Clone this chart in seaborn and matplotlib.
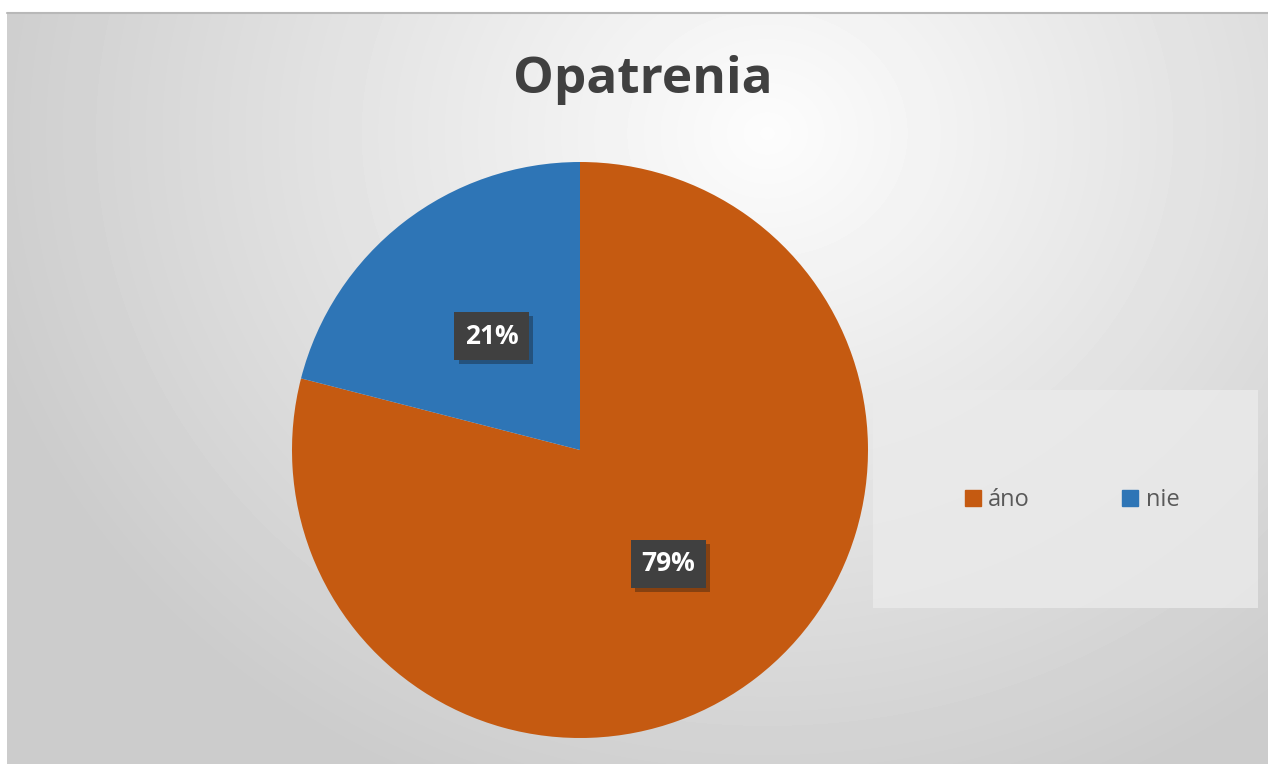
import numpy as np
import matplotlib
matplotlib.use("Agg")
import matplotlib.pyplot as plt
import matplotlib.patheffects as pe
from matplotlib.patches import Rectangle
from matplotlib.lines import Line2D
import seaborn as sns

# data
labels = ["áno", "nie"]
shares = [79, 21]
colors = ["#C55A11", "#2E75B6"]
title = "Opatrenia"

sns.set_style("white")
plt.rcParams['font.family'] = ['Open Sans', 'DejaVu Sans']

W, H = 1268, 764
fig = plt.figure(figsize=(W / 100, H / 100), dpi=100)
fig.patch.set_facecolor("white")

# radial gradient background of the chart area
bg = fig.add_axes([7 / W, 0, 1 - 7 / W, (H - 13) / H])
yy, xx = np.mgrid[0:H - 13, 0:W - 7]
d = np.sqrt(((xx - 760) / 850.0) ** 2 + ((yy - 120) / 750.0) ** 2)
shade = np.clip(0.99 - 0.2 * d, 0.8, 1.0)
bg.imshow(shade, cmap="gray", vmin=0, vmax=1, aspect="auto", interpolation="bilinear")
bg.axis("off")
fig.add_artist(Line2D([7 / W, 1], [(H - 13) / H] * 2, color="#b8b8b8", lw=1.5))

# legend panel
fig.add_artist(Rectangle((873 / W, (H - 608) / H), 385 / W, 218 / H,
                         transform=fig.transFigure, facecolor="#ebebeb",
                         edgecolor="none", alpha=0.8))

# pie
ax = fig.add_axes([292 / W, 26 / H, 576 / W, 576 / H])
wedges, texts, autotexts = ax.pie(shares, colors=colors, startangle=90, counterclock=False,
                                  autopct="%1.0f%%", pctdistance=0.5, radius=1.0,
                                  wedgeprops=dict(linewidth=0),
                                  textprops=dict(color="white", fontsize=19, fontweight="bold"))
ax.set_xlim(-1, 1)
ax.set_ylim(-1, 1)
ax.set_aspect("equal")
for t in autotexts:
    t.set_bbox(dict(boxstyle="square,pad=0.4", facecolor="#404040", edgecolor="none"))
    t.get_bbox_patch().set_path_effects([pe.SimplePatchShadow(offset=(3, -3), alpha=0.35),
                                         pe.Normal()])

fig.text(643 / W, 1 - 80 / H, title, ha="center", va="center", fontsize=37,
         fontweight="bold", color="#404040")

handles = [Line2D([], [], marker="s", linestyle="none", markersize=11,
                  markerfacecolor=c, markeredgecolor=c) for c in colors]
fig.legend(handles, labels, loc="center", bbox_to_anchor=(1072 / W, 1 - 500 / H),
           ncol=2, frameon=False, fontsize=17, handlelength=0.7, handletextpad=0.3,
           columnspacing=3.9, labelcolor="#595959")

fig.savefig("out.png", dpi=100)
